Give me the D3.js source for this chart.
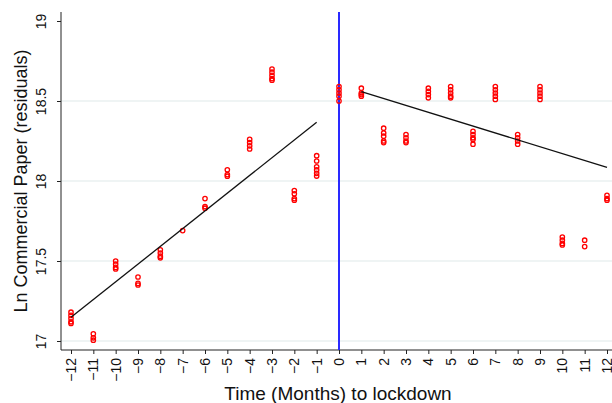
<!DOCTYPE html>
<html>
<head>
<meta charset="utf-8">
<script src="https://cdn.jsdelivr.net/npm/d3@7"></script>
<style>
  body { margin: 0; background: #fff; }
  svg { font-family: "Liberation Sans", Arial, sans-serif; }
</style>
</head>
<body>
<svg id="chart" width="612" height="403"></svg>
<script>
// months relative to lockdown and the residuals observed in each month
const months = [-12, -11, -10, -9, -8, -7, -6, -5, -4, -3, -2, -1, 0, 1, 2, 3, 4, 5, 6, 7, 8, 9, 10, 11, 12];
const residuals = [
    [17.18, 17.16, 17.14, 17.12, 17.11],
    [17.045, 17.02, 17.005],
    [17.50, 17.48, 17.46, 17.45],
    [17.40, 17.36, 17.35],
    [17.57, 17.55, 17.53, 17.52],
    [17.69],
    [17.89, 17.84, 17.83],
    [18.07, 18.04, 18.03],
    [18.26, 18.24, 18.22, 18.20],
    [18.70, 18.68, 18.66, 18.64, 18.63],
    [17.94, 17.92, 17.89, 17.88],
    [18.158, 18.125, 18.089, 18.069, 18.048, 18.031],
    [18.59, 18.57, 18.55, 18.53, 18.50],
    [18.58, 18.55, 18.54, 18.53],
    [18.33, 18.30, 18.28, 18.25, 18.24],
    [18.29, 18.27, 18.25, 18.24],
    [18.58, 18.56, 18.54, 18.52],
    [18.59, 18.57, 18.55, 18.53, 18.52],
    [18.31, 18.29, 18.27, 18.26, 18.23],
    [18.59, 18.57, 18.55, 18.53, 18.51],
    [18.29, 18.27, 18.25, 18.23],
    [18.59, 18.57, 18.55, 18.53, 18.51],
    [17.65, 17.63, 17.61, 17.60],
    [17.63, 17.59],
    [17.91, 17.89, 17.88]
];
// linear fits before and after lockdown (end points)
const preFit = [[-12, 17.148], [-1, 18.367]];
const postFit = [[1, 18.558], [12, 18.085]];
const yTicks = [17, 17.5, 18, 18.5, 19];
const gridTicks = [17, 17.5, 18, 18.5];

const svg = d3.select("#chart");
const plotLeft = 61, plotRight = 612, plotTop = 12, plotBottom = 350;

const x = d3.scaleLinear().domain([-12, 12]).range([71, 607]);
const y = d3.scaleLinear().domain([17, 19]).range([341, 21]);

// gridlines
svg.append("g")
    .selectAll("line")
    .data(gridTicks)
    .enter().append("line")
    .attr("x1", plotLeft)
    .attr("x2", plotRight)
    .attr("y1", d => y(d))
    .attr("y2", d => y(d))
    .attr("stroke", "#eaf0f0")
    .attr("stroke-width", 1.5);

// y axis
const yAxis = svg.append("g")
    .attr("transform", `translate(${plotLeft},0)`)
    .call(d3.axisLeft(y).tickValues(yTicks).tickSize(4).tickFormat(d3.format("")));
yAxis.select(".domain").attr("d", `M0,${plotTop}V${plotBottom}`).attr("stroke", "#222");
yAxis.selectAll(".tick line").attr("stroke", "#222");
yAxis.selectAll(".tick text")
    .attr("x", 0).attr("dy", 0)
    .attr("text-anchor", "middle")
    .attr("transform", "translate(-15,0) rotate(-90)")
    .attr("font-size", "14px")
    .attr("fill", "#111");

// x axis
const xAxis = svg.append("g")
    .attr("transform", `translate(0,${plotBottom})`)
    .call(d3.axisBottom(x).tickValues(months).tickSize(4).tickFormat(d3.format("")));
xAxis.select(".domain").attr("d", `M${plotLeft},0H${plotRight}`).attr("stroke", "#222");
xAxis.selectAll(".tick line").attr("stroke", "#222");
xAxis.selectAll(".tick text")
    .attr("x", 0).attr("y", 0).attr("dy", "0.33em")
    .attr("text-anchor", "end")
    .attr("transform", "translate(0,8) rotate(-90)")
    .attr("font-size", "14px")
    .attr("fill", "#111");

// lockdown line
svg.append("line")
    .attr("x1", x(0)).attr("x2", x(0))
    .attr("y1", plotTop).attr("y2", plotBottom)
    .attr("stroke", "#2a2aff")
    .attr("stroke-width", 2);

// points
const points = [];
months.forEach((m, i) => residuals[i].forEach(v => points.push({ m, v })));
svg.append("g")
    .selectAll("circle")
    .data(points)
    .enter().append("circle")
    .attr("cx", d => x(d.m))
    .attr("cy", d => y(d.v))
    .attr("r", 2.2)
    .attr("fill", "none")
    .attr("stroke", "#ff0000")
    .attr("stroke-width", 1.3);

// fitted lines
const line = d3.line().x(d => x(d[0])).y(d => y(d[1]));
[preFit, postFit].forEach(f => {
    svg.append("path")
        .attr("d", line(f))
        .attr("fill", "none")
        .attr("stroke", "#111")
        .attr("stroke-width", 1.3);
});

// axis titles
svg.append("text")
    .attr("transform", "translate(27,181) rotate(-90)")
    .attr("text-anchor", "middle")
    .attr("font-size", "18px")
    .attr("fill", "#111")
    .text("Ln Commercial Paper (residuals)");

svg.append("text")
    .attr("x", 338)
    .attr("y", 400)
    .attr("text-anchor", "middle")
    .attr("font-size", "19px")
    .attr("fill", "#111")
    .text("Time (Months) to lockdown");
</script>
</body>
</html>
